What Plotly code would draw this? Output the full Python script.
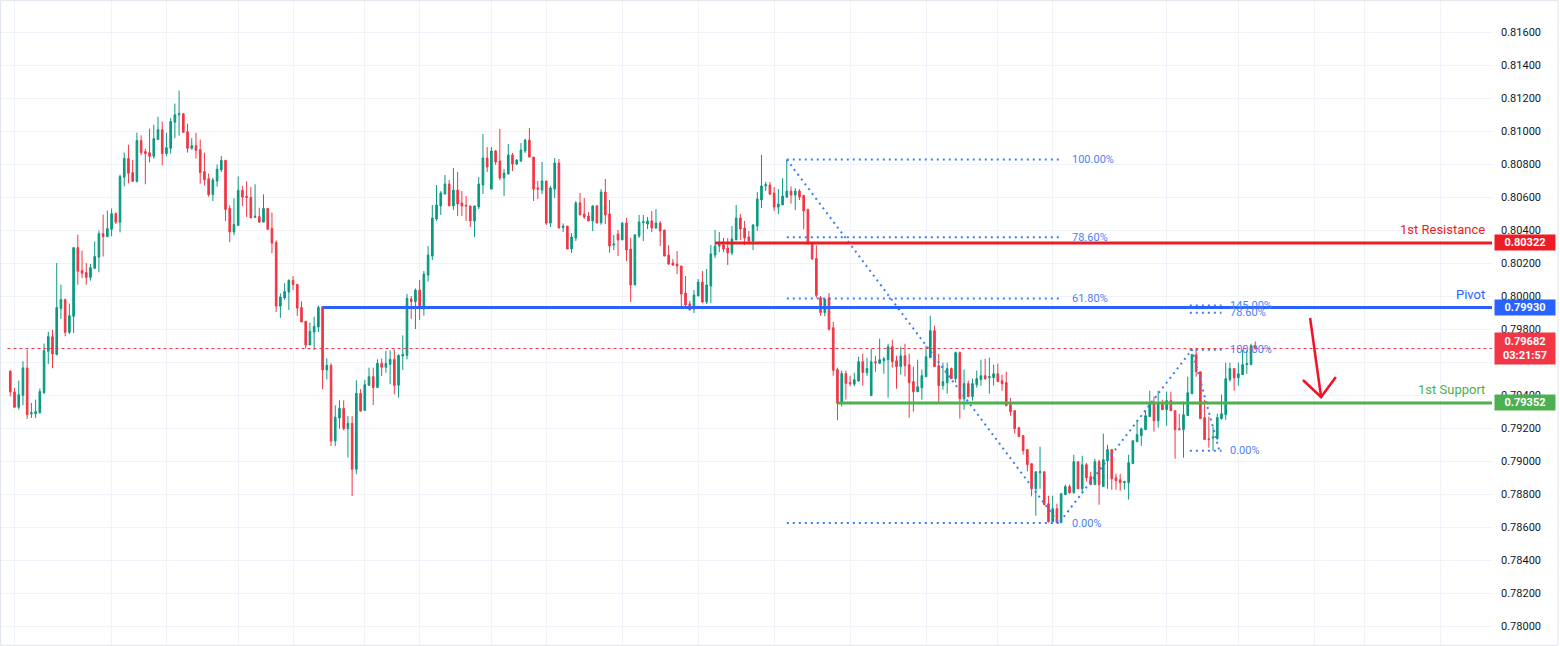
import plotly.graph_objects as go

# ---------------- data ----------------
opens = [
    0.79544, 0.79419, 0.79326, 0.79398, 0.79564, 0.79287, 0.79287, 0.79293, 0.79414, 0.79665,
    0.79754, 0.79645, 0.79924, 0.79978, 0.79780, 0.79877, 0.80293, 0.80154, 0.80142, 0.80113,
    0.80168, 0.80235, 0.80378, 0.80360, 0.80404, 0.80499, 0.80447, 0.80720, 0.80833, 0.80748,
    0.80695, 0.80942, 0.80875, 0.80869, 0.80847, 0.80948, 0.81008, 0.80863, 0.80895, 0.81053,
    0.81099, 0.81105, 0.80996, 0.80895, 0.80911, 0.80887, 0.80754, 0.80711, 0.80616, 0.80697,
    0.80764, 0.80822, 0.80531, 0.80388, 0.80428, 0.80640, 0.80604, 0.80598, 0.80477, 0.80481,
    0.80448, 0.80531, 0.80410, 0.80325, 0.79939, 0.79988, 0.80024, 0.80095, 0.80071, 0.79931,
    0.79847, 0.79703, 0.79782, 0.79812, 0.79935, 0.79552, 0.79580, 0.79121, 0.79261, 0.79319,
    0.79196, 0.79228, 0.78950, 0.79410, 0.79307, 0.79459, 0.79511, 0.79445, 0.79592, 0.79568,
    0.79586, 0.79616, 0.79459, 0.79636, 0.79640, 0.79982, 0.79966, 0.80036, 0.79923, 0.80127,
    0.80242, 0.80467, 0.80546, 0.80618, 0.80679, 0.80546, 0.80642, 0.80564, 0.80550, 0.80546,
    0.80455, 0.80540, 0.80673, 0.80836, 0.80648, 0.80879, 0.80818, 0.80715, 0.80739, 0.80855,
    0.80800, 0.80818, 0.80879, 0.80945, 0.80842, 0.80655, 0.80642, 0.80697, 0.80442, 0.80648,
    0.80806, 0.80416, 0.80424, 0.80285, 0.80352, 0.80564, 0.80497, 0.80485, 0.80455, 0.80546,
    0.80444, 0.80630, 0.80497, 0.80309, 0.80376, 0.80340, 0.80442, 0.80285, 0.80067, 0.80364,
    0.80444, 0.80436, 0.80455, 0.80412, 0.80442, 0.80400, 0.80248, 0.80200, 0.80194, 0.80182,
    0.80018, 0.79952, 0.79921, 0.80000, 0.80085, 0.79964, 0.80061, 0.80248, 0.80303, 0.80309,
    0.80291, 0.80261, 0.80340, 0.80473, 0.80412, 0.80358, 0.80333, 0.80424, 0.80582, 0.80667,
    0.80673, 0.80624, 0.80539, 0.80552, 0.80600, 0.80636, 0.80612, 0.80636, 0.80610, 0.80524,
    0.80320, 0.80228, 0.79990, 0.79900, 0.79988, 0.79808, 0.79554, 0.79350, 0.79530, 0.79475,
    0.79466, 0.79485, 0.79602, 0.79535, 0.79396, 0.79602, 0.79592, 0.79608, 0.79614, 0.79693,
    0.79608, 0.79572, 0.79638, 0.79584, 0.79481, 0.79420, 0.79444, 0.79511, 0.79626, 0.79790,
    0.79578, 0.79457, 0.79475, 0.79560, 0.79499, 0.79657, 0.79378, 0.79469, 0.79390, 0.79463,
    0.79493, 0.79517, 0.79505, 0.79505, 0.79529, 0.79487, 0.79475, 0.79341, 0.79305, 0.79202,
    0.79154, 0.79069, 0.78984, 0.78832, 0.78929, 0.78935, 0.78741, 0.78632, 0.78711, 0.78626,
    0.78796, 0.78845, 0.78808, 0.78996, 0.78832, 0.78978, 0.78905, 0.78857, 0.78996, 0.78845,
    0.79002, 0.79069, 0.78899, 0.78887, 0.78869, 0.78869, 0.78984, 0.79117, 0.79154, 0.79190,
    0.79269, 0.79354, 0.79244, 0.79354, 0.79311, 0.79366, 0.79305, 0.79196, 0.79190, 0.79275,
    0.79408, 0.79644, 0.79541, 0.79263, 0.79135, 0.79139, 0.79135, 0.79257, 0.79281, 0.79493,
    0.79560, 0.79505, 0.79523, 0.79584, 0.79584, 0.79699,
]
highs = [
    0.79550, 0.79443, 0.79487, 0.79604, 0.79675, 0.79352, 0.79372, 0.79439, 0.79712, 0.79784,
    0.79794, 0.80200, 0.80069, 0.79984, 0.79954, 0.80293, 0.80372, 0.80275, 0.80200, 0.80194,
    0.80330, 0.80396, 0.80493, 0.80517, 0.80530, 0.80507, 0.80736, 0.80869, 0.80917, 0.80826,
    0.80990, 0.80974, 0.80893, 0.81014, 0.81039, 0.81087, 0.81057, 0.80990, 0.81079, 0.81166,
    0.81245, 0.81105, 0.81045, 0.80956, 0.80990, 0.80948, 0.80869, 0.80742, 0.80717, 0.80798,
    0.80849, 0.80822, 0.80550, 0.80592, 0.80725, 0.80667, 0.80695, 0.80661, 0.80677, 0.80535,
    0.80616, 0.80531, 0.80505, 0.80337, 0.80016, 0.80077, 0.80101, 0.80121, 0.80071, 0.79968,
    0.79847, 0.79839, 0.79875, 0.79943, 0.79939, 0.79622, 0.79592, 0.79338, 0.79368, 0.79368,
    0.79273, 0.79273, 0.79489, 0.79435, 0.79491, 0.79566, 0.79566, 0.79616, 0.79622, 0.79667,
    0.79671, 0.79677, 0.79647, 0.79762, 0.80012, 0.80000, 0.80046, 0.80097, 0.80152, 0.80303,
    0.80552, 0.80673, 0.80636, 0.80733, 0.80703, 0.80776, 0.80752, 0.80636, 0.80606, 0.80546,
    0.80546, 0.80721, 0.80982, 0.80903, 0.80903, 0.80885, 0.81012, 0.80770, 0.80921, 0.80867,
    0.80830, 0.80927, 0.80952, 0.81018, 0.80842, 0.80697, 0.80812, 0.80697, 0.80667, 0.80836,
    0.80830, 0.80440, 0.80424, 0.80382, 0.80576, 0.80624, 0.80594, 0.80509, 0.80552, 0.80552,
    0.80648, 0.80709, 0.80582, 0.80370, 0.80400, 0.80448, 0.80473, 0.80352, 0.80376, 0.80491,
    0.80491, 0.80479, 0.80515, 0.80527, 0.80455, 0.80400, 0.80309, 0.80224, 0.80273, 0.80182,
    0.80121, 0.79970, 0.80036, 0.80103, 0.80152, 0.80164, 0.80309, 0.80400, 0.80388, 0.80352,
    0.80352, 0.80424, 0.80552, 0.80497, 0.80455, 0.80394, 0.80436, 0.80630, 0.80855, 0.80691,
    0.80691, 0.80661, 0.80648, 0.80715, 0.80827, 0.80664, 0.80654, 0.80648, 0.80612, 0.80530,
    0.80320, 0.80308, 0.80000, 0.79990, 0.80018, 0.79844, 0.79566, 0.79548, 0.79548, 0.79517,
    0.79535, 0.79632, 0.79650, 0.79626, 0.79681, 0.79638, 0.79741, 0.79632, 0.79711, 0.79735,
    0.79638, 0.79693, 0.79711, 0.79650, 0.79572, 0.79614, 0.79554, 0.79699, 0.79881, 0.79820,
    0.79650, 0.79596, 0.79596, 0.79566, 0.79663, 0.79663, 0.79554, 0.79487, 0.79499, 0.79548,
    0.79614, 0.79620, 0.79626, 0.79584, 0.79590, 0.79523, 0.79541, 0.79382, 0.79305, 0.79202,
    0.79154, 0.79069, 0.78984, 0.78935, 0.79087, 0.78935, 0.78790, 0.78790, 0.78741, 0.78802,
    0.78857, 0.78857, 0.79038, 0.78996, 0.79032, 0.78988, 0.78935, 0.79014, 0.79008, 0.79166,
    0.79099, 0.79069, 0.78923, 0.78923, 0.78880, 0.79038, 0.79123, 0.79250, 0.79202, 0.79305,
    0.79426, 0.79390, 0.79426, 0.79372, 0.79420, 0.79420, 0.79305, 0.79287, 0.79360, 0.79511,
    0.79650, 0.79681, 0.79541, 0.79372, 0.79269, 0.79208, 0.79287, 0.79402, 0.79596, 0.79596,
    0.79560, 0.79596, 0.79675, 0.79675, 0.79711, 0.79725,
]
lows = [
    0.79392, 0.79322, 0.79312, 0.79338, 0.79255, 0.79261, 0.79261, 0.79287, 0.79408, 0.79588,
    0.79562, 0.79641, 0.79861, 0.79756, 0.79770, 0.79776, 0.80069, 0.80109, 0.80069, 0.80093,
    0.80164, 0.80144, 0.80239, 0.80360, 0.80362, 0.80437, 0.80386, 0.80665, 0.80683, 0.80695,
    0.80689, 0.80853, 0.80677, 0.80810, 0.80833, 0.80948, 0.80792, 0.80847, 0.80863, 0.80956,
    0.80972, 0.80992, 0.80869, 0.80887, 0.80833, 0.80681, 0.80669, 0.80602, 0.80576, 0.80663,
    0.80752, 0.80455, 0.80327, 0.80368, 0.80428, 0.80545, 0.80479, 0.80473, 0.80473, 0.80444,
    0.80444, 0.80404, 0.80259, 0.79903, 0.79867, 0.79976, 0.79915, 0.80036, 0.79879, 0.79843,
    0.79681, 0.79703, 0.79673, 0.79782, 0.79435, 0.79495, 0.79091, 0.79091, 0.79196, 0.79186,
    0.79021, 0.78788, 0.78920, 0.79299, 0.79307, 0.79455, 0.79339, 0.79445, 0.79515, 0.79535,
    0.79465, 0.79404, 0.79384, 0.79552, 0.79616, 0.79861, 0.79800, 0.79855, 0.79881, 0.80087,
    0.80218, 0.80455, 0.80491, 0.80618, 0.80546, 0.80521, 0.80485, 0.80485, 0.80455, 0.80418,
    0.80358, 0.80527, 0.80618, 0.80752, 0.80648, 0.80794, 0.80703, 0.80606, 0.80739, 0.80758,
    0.80794, 0.80812, 0.80867, 0.80842, 0.80576, 0.80588, 0.80618, 0.80430, 0.80418, 0.80594,
    0.80412, 0.80388, 0.80285, 0.80261, 0.80333, 0.80491, 0.80467, 0.80455, 0.80394, 0.80442,
    0.80432, 0.80436, 0.80263, 0.80279, 0.80242, 0.80340, 0.80212, 0.79964, 0.80067, 0.80352,
    0.80333, 0.80406, 0.80388, 0.80406, 0.80303, 0.80242, 0.80188, 0.80182, 0.80133, 0.79940,
    0.79934, 0.79915, 0.79897, 0.80000, 0.79958, 0.79952, 0.79958, 0.80230, 0.80267, 0.80267,
    0.80188, 0.80248, 0.80340, 0.80340, 0.80309, 0.80315, 0.80279, 0.80394, 0.80533, 0.80636,
    0.80612, 0.80515, 0.80497, 0.80552, 0.80594, 0.80560, 0.80521, 0.80582, 0.80404, 0.80310,
    0.80220, 0.79990, 0.79880, 0.79877, 0.79790, 0.79517, 0.79247, 0.79330, 0.79372, 0.79453,
    0.79453, 0.79481, 0.79457, 0.79517, 0.79396, 0.79541, 0.79592, 0.79529, 0.79384, 0.79566,
    0.79438, 0.79523, 0.79513, 0.79263, 0.79299, 0.79420, 0.79372, 0.79511, 0.79626, 0.79572,
    0.79354, 0.79432, 0.79408, 0.79499, 0.79475, 0.79257, 0.79311, 0.79390, 0.79366, 0.79445,
    0.79457, 0.79493, 0.79408, 0.79457, 0.79481, 0.79426, 0.79335, 0.79275, 0.79166, 0.79148,
    0.79039, 0.78937, 0.78786, 0.78669, 0.78832, 0.78735, 0.78628, 0.78628, 0.78626, 0.78626,
    0.78796, 0.78802, 0.78802, 0.78832, 0.78802, 0.78875, 0.78857, 0.78857, 0.78735, 0.78845,
    0.78832, 0.78826, 0.78826, 0.78820, 0.78826, 0.78766, 0.78984, 0.79117, 0.79093, 0.79190,
    0.79269, 0.79178, 0.79202, 0.79311, 0.79214, 0.79305, 0.79014, 0.79190, 0.79020, 0.79275,
    0.79408, 0.79511, 0.79257, 0.79130, 0.79081, 0.79062, 0.79130, 0.79250, 0.79250, 0.79481,
    0.79426, 0.79457, 0.79523, 0.79529, 0.79584, 0.79675,
]
closes = [
    0.79419, 0.79326, 0.79402, 0.79564, 0.79281, 0.79293, 0.79299, 0.79421, 0.79669, 0.79754,
    0.79649, 0.79930, 0.79978, 0.79780, 0.79881, 0.80293, 0.80150, 0.80138, 0.80113, 0.80172,
    0.80239, 0.80378, 0.80360, 0.80408, 0.80499, 0.80447, 0.80724, 0.80833, 0.80744, 0.80695,
    0.80942, 0.80869, 0.80863, 0.80847, 0.80954, 0.81008, 0.80863, 0.80899, 0.81057, 0.81099,
    0.81105, 0.80992, 0.80895, 0.80911, 0.80883, 0.80748, 0.80705, 0.80614, 0.80703, 0.80768,
    0.80822, 0.80525, 0.80388, 0.80434, 0.80640, 0.80600, 0.80598, 0.80473, 0.80483, 0.80448,
    0.80531, 0.80404, 0.80321, 0.79939, 0.79994, 0.80028, 0.80095, 0.80069, 0.79927, 0.79843,
    0.79703, 0.79786, 0.79816, 0.79931, 0.79552, 0.79580, 0.79121, 0.79265, 0.79319, 0.79196,
    0.79228, 0.78950, 0.79410, 0.79303, 0.79463, 0.79511, 0.79445, 0.79592, 0.79568, 0.79592,
    0.79616, 0.79459, 0.79640, 0.79647, 0.79986, 0.79966, 0.80036, 0.79923, 0.80133, 0.80248,
    0.80473, 0.80552, 0.80624, 0.80679, 0.80546, 0.80642, 0.80558, 0.80546, 0.80546, 0.80455,
    0.80546, 0.80679, 0.80836, 0.80782, 0.80879, 0.80812, 0.80715, 0.80745, 0.80855, 0.80800,
    0.80824, 0.80885, 0.80945, 0.80842, 0.80648, 0.80648, 0.80697, 0.80442, 0.80655, 0.80806,
    0.80412, 0.80424, 0.80285, 0.80358, 0.80564, 0.80491, 0.80479, 0.80455, 0.80546, 0.80442,
    0.80630, 0.80491, 0.80303, 0.80315, 0.80340, 0.80442, 0.80279, 0.80067, 0.80370, 0.80448,
    0.80450, 0.80455, 0.80412, 0.80442, 0.80394, 0.80242, 0.80194, 0.80188, 0.80182, 0.80012,
    0.79946, 0.79915, 0.80006, 0.80085, 0.79964, 0.80067, 0.80255, 0.80303, 0.80309, 0.80285,
    0.80261, 0.80346, 0.80473, 0.80406, 0.80352, 0.80333, 0.80430, 0.80588, 0.80667, 0.80675,
    0.80618, 0.80539, 0.80557, 0.80606, 0.80636, 0.80612, 0.80636, 0.80600, 0.80515, 0.80324,
    0.80224, 0.80004, 0.79900, 0.79980, 0.79800, 0.79550, 0.79350, 0.79530, 0.79471, 0.79469,
    0.79493, 0.79602, 0.79537, 0.79560, 0.79602, 0.79596, 0.79614, 0.79620, 0.79693, 0.79602,
    0.79572, 0.79638, 0.79578, 0.79475, 0.79420, 0.79450, 0.79517, 0.79632, 0.79790, 0.79572,
    0.79457, 0.79481, 0.79560, 0.79499, 0.79657, 0.79378, 0.79469, 0.79390, 0.79469, 0.79499,
    0.79517, 0.79499, 0.79511, 0.79529, 0.79481, 0.79469, 0.79335, 0.79299, 0.79196, 0.79148,
    0.79063, 0.78978, 0.78832, 0.78935, 0.78935, 0.78735, 0.78632, 0.78711, 0.78626, 0.78802,
    0.78845, 0.78808, 0.78996, 0.78832, 0.78978, 0.78899, 0.78857, 0.78996, 0.78857, 0.79008,
    0.79069, 0.78893, 0.78881, 0.78869, 0.78875, 0.78990, 0.79123, 0.79160, 0.79196, 0.79275,
    0.79354, 0.79244, 0.79354, 0.79311, 0.79366, 0.79305, 0.79190, 0.79190, 0.79281, 0.79414,
    0.79644, 0.79541, 0.79257, 0.79130, 0.79130, 0.79145, 0.79263, 0.79287, 0.79499, 0.79560,
    0.79505, 0.79529, 0.79584, 0.79590, 0.79699, 0.79682,
]

# key levels: (name, price, start bar, colour)
level_names = ["1st Resistance", "Pivot", "1st Support"]
level_prices = [0.80322, 0.79930, 0.79352]
level_start = [167, 74, 196]
level_colors = ["#ee1c25", "#2962ff", "#4caf50"]

last_price = 0.79682
countdown = "03:21:57"

# big fib retracement (anchor bars and prices)
fib_big_bars = [184, 248]
fib_big_high = 0.80827
fib_big_low = 0.78624
fib_big_levels = [1.0, 0.786, 0.618, 0.0]
fib_big_labels = ["100.00%", "78.60%", "61.80%", "0.00%"]

# small fib (labels and prices as drawn)
fib_small_bars = [279.5, 287]
fib_small_labels = ["145.00%", "78.60%", "100.00%", "0.00%"]
fib_small_prices = [0.79943, 0.79899, 0.79675, 0.79062]

# zig-zag of the fib drawings (bar, price)
zig_bars = [184, 248.5, 280, 286.5]
zig_prices = [0.80827, 0.78624, 0.79675, 0.79062]

# hand-drawn arrow (bar, price)
arrow_shaft_x = [308.0, 310.6]
arrow_shaft_y = [0.79867, 0.79388]
arrow_head_x = [306.3, 310.6, 314.1]
arrow_head_y = [0.79491, 0.79388, 0.79509]

# axis ticks (0.79600 sits under the last-price box)
price_ticks = [0.780 + 0.002 * k for k in range(19)]
hidden_ticks = [0.796]
time_grid = [1, 24, 37, 54, 67, 84, 97, 114, 127, 145, 163, 181, 199, 217, 234, 247,
             274, 291, 309, 321, 339]

# ---------------- figure ----------------
UP = "#089981"
DOWN = "#f23645"
FIB = "#3f7cf4"
FIBTXT = "#4a82f5"
GRID = "#f0f3fa"
FONT = "Roboto, 'Noto Sans', sans-serif"

X_RANGE = [-2.44, 351.1]
Y_RANGE = [0.77879, 0.81794]

bars = list(range(len(closes)))

fig = go.Figure()

fig.add_trace(go.Candlestick(
    x=bars, open=opens, high=highs, low=lows, close=closes,
    increasing=dict(line=dict(color=UP, width=1), fillcolor=UP),
    decreasing=dict(line=dict(color=DOWN, width=1), fillcolor=DOWN),
    whiskerwidth=0, hoverinfo="skip", showlegend=False,
))

# big fib dotted levels
for lv, lab in zip(fib_big_levels, fib_big_labels):
    p = fib_big_low + lv * (fib_big_high - fib_big_low)
    fig.add_trace(go.Scatter(
        x=[fib_big_bars[0], fib_big_bars[1] + 0.7], y=[p, p], mode="lines",
        line=dict(color=FIB, width=2, dash="2px,4px"), hoverinfo="skip", showlegend=False))
    fig.add_annotation(x=251.1, y=p, text=lab, showarrow=False, xanchor="left",
                       yanchor="middle", font=dict(family=FONT, size=11, color=FIBTXT))

# small fib dotted levels
for lab, p in zip(fib_small_labels, fib_small_prices):
    fig.add_trace(go.Scatter(
        x=fib_small_bars, y=[p, p], mode="lines",
        line=dict(color=FIB, width=2, dash="2px,4px"), hoverinfo="skip", showlegend=False))
    fig.add_annotation(x=288.6, y=p, text=lab, showarrow=False, xanchor="left",
                       yanchor="middle", font=dict(family=FONT, size=11, color=FIBTXT))

# zig-zag
fig.add_trace(go.Scatter(
    x=zig_bars, y=zig_prices, mode="lines",
    line=dict(color=FIB, width=2, dash="2px,4px"), hoverinfo="skip", showlegend=False))

# current price dotted line
fig.add_shape(type="line", xref="paper", x0=0.005, x1=1, yref="y", y0=last_price,
              y1=last_price, line=dict(color=DOWN, width=1, dash="dot"))

# key levels
for name, p, s, c in zip(level_names, level_prices, level_start, level_colors):
    fig.add_trace(go.Scatter(x=[s, X_RANGE[1]], y=[p, p], mode="lines",
                             line=dict(color=c, width=3), hoverinfo="skip", showlegend=False))
    fig.add_annotation(xref="paper", x=1, xshift=-5, y=p, yshift=4, text=name,
                       showarrow=False, xanchor="right", yanchor="bottom",
                       font=dict(family=FONT, size=13, color=c))
    fig.add_annotation(xref="paper", x=1, xshift=2, y=p, text="<b>%.5f</b>" % p,
                       showarrow=False, xanchor="left", yanchor="middle",
                       width=56, height=11, borderpad=2, bgcolor=c, align="center",
                       font=dict(family=FONT, size=11, color="white"))

# last price box
fig.add_annotation(xref="paper", x=1, xshift=2, y=last_price,
                   text="<b>%.5f</b><br><b>%s</b>" % (last_price, countdown),
                   showarrow=False, xanchor="left", yanchor="middle",
                   width=56, height=27, borderpad=2, bgcolor=DOWN, align="center",
                   font=dict(family=FONT, size=11, color="white"))

# arrow
fig.add_trace(go.Scatter(x=arrow_shaft_x, y=arrow_shaft_y, mode="lines",
                         line=dict(color="#f2102a", width=2.5), hoverinfo="skip",
                         showlegend=False))
fig.add_trace(go.Scatter(x=arrow_head_x, y=arrow_head_y, mode="lines",
                         line=dict(color="#f2102a", width=2.5), hoverinfo="skip",
                         showlegend=False))

# outer frame
fig.add_shape(type="rect", xref="paper", yref="paper", x0=0.0004, x1=1558 / 1492,
              y0=0.001, y1=0.999, line=dict(color="#e0e3eb", width=1), layer="above")

tick_text = ["" if any(abs(v - h) < 1e-9 for h in hidden_ticks) else "%.5f" % v
             for v in price_ticks]

fig.update_layout(
    width=1560, height=646,
    margin=dict(l=0, r=68, t=0, b=0, pad=0),
    paper_bgcolor="white", plot_bgcolor="white",
    showlegend=False, boxgap=0.45,
    font=dict(family=FONT, color="#131722"),
    xaxis=dict(range=X_RANGE, rangeslider=dict(visible=False), showticklabels=False,
               tickvals=time_grid, showgrid=True, gridcolor=GRID, gridwidth=1,
               zeroline=False, showline=False, ticks=""),
    yaxis=dict(range=Y_RANGE, side="right", tickvals=price_ticks,
               ticktext=tick_text, showgrid=True,
               gridcolor=GRID, gridwidth=1, zeroline=False, showline=False, ticks="",
               ticklabelstandoff=8, tickfont=dict(family=FONT, size=11, color="#131722")),
)

fig.write_html("out.html", config={"displayModeBar": False},
               post_script="document.body.style.margin='0';document.body.style.overflow='hidden';")
